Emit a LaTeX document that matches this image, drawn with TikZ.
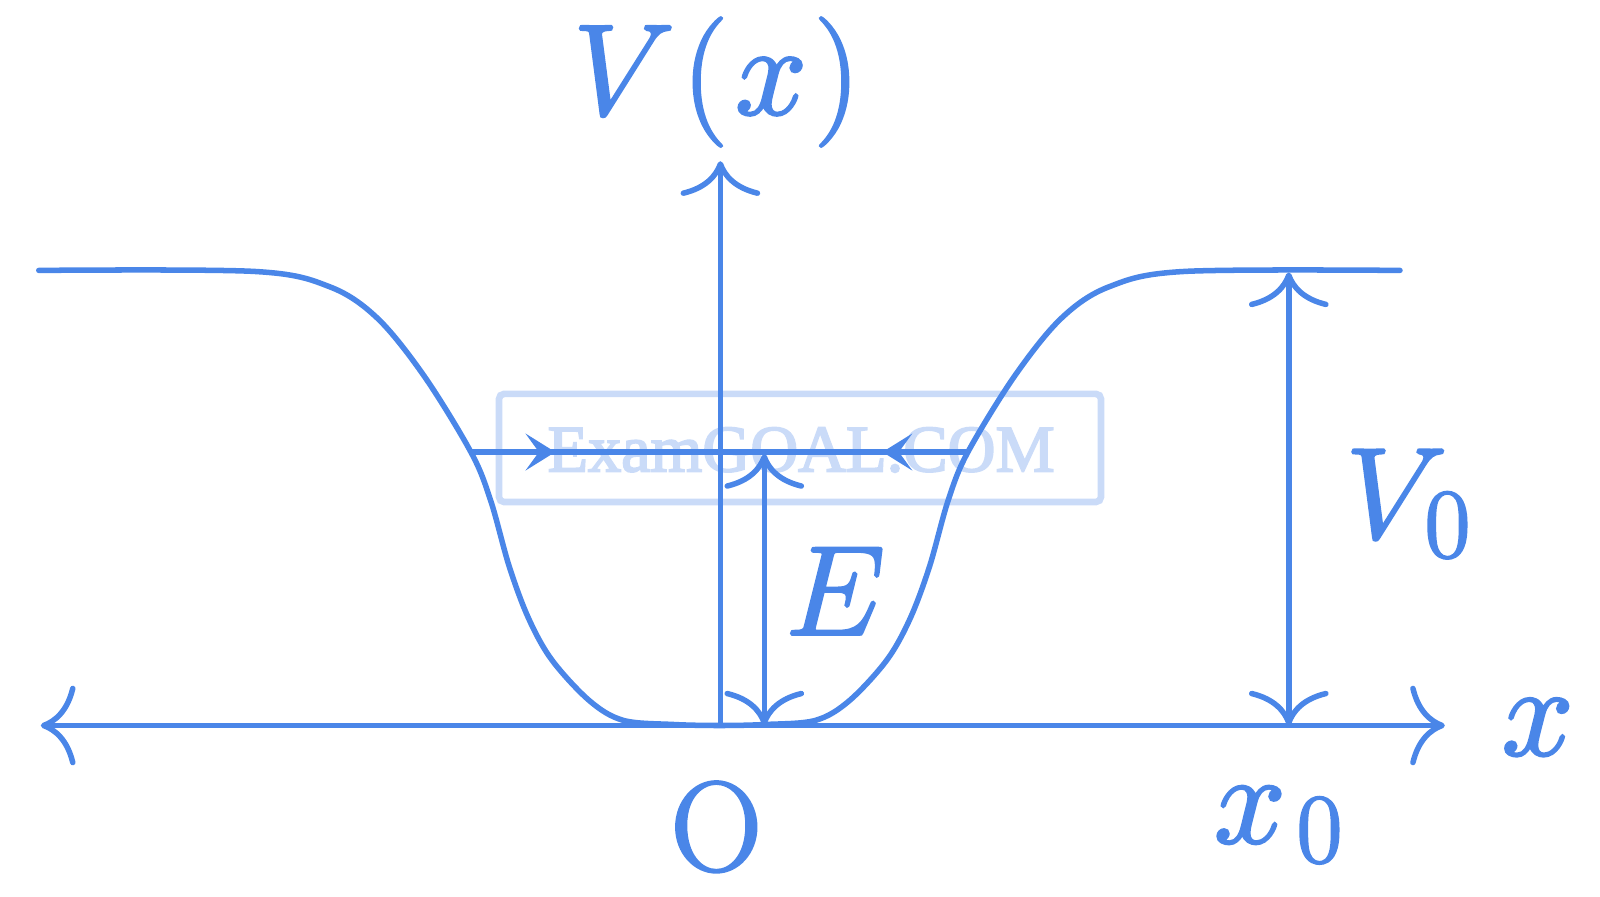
\RequirePackage{fix-cm}
\documentclass[tikz,border=0pt]{standalone}
\usepackage{fontspec}
\newfontfamily\wmfont{Liberation Serif}
\DeclareMathSizes{36}{36}{27.5}{20}
\DeclareMathSizes{35.5}{35.5}{27}{20}
\usetikzlibrary{arrows.meta,decorations.markings}
\definecolor{pblue}{RGB}{74,134,232}
\definecolor{wblue}{RGB}{202,219,248}
\newcommand\thk[2][0.7]{\special{pdf:literal direct 2 Tr #1 w}#2\special{pdf:literal direct 0 Tr}}
\tikzset{
  cmar/.tip={Computer Modern Rightarrow[length=0.34cm,width=0.78cm]},
  stl/.tip={Stealth[length=0.29cm,width=0.36cm,inset=0.13cm]},
  pline/.style={pblue, line width=0.054cm},
  lbl/.style={text=pblue, inner sep=0pt, font=\fontsize{36}{43}\selectfont},
}
\begin{document}
\begin{tikzpicture}[x=0.01cm,y=-0.01cm]
\useasboundingbox (0,0) rectangle (1568,879);
% watermark
\draw[wblue, line width=0.065cm, rounded corners=0.05cm] (489,386) rectangle (1079,492);
\node[text=wblue, inner sep=0pt, anchor=base, font=\wmfont\fontsize{18.5}{20}\selectfont] (wm) at (785,462) {\thk[0.5]{ExamGOAL.COM}};
% coordinates
\coordinate (axL) at (40,711);
\coordinate (axR) at (1416,711);
\coordinate (org) at (706,711);
\coordinate (axT) at (706,158);
\coordinate (v0B) at (1263,711);
\coordinate (v0T) at (1263,267);
\coordinate (eB) at (749,711);
\coordinate (eT) at (749,445);
\coordinate (hL) at (462,443);
\coordinate (hR) at (948,443);
% potential curve
\draw[pline, line cap=round] plot[smooth, tension=0.55] coordinates {(38,265) (249,266) (323,281) (370,312) (416,369) (462,444) (481,491) (499,555) (518,606) (541,647) (578,687) (611,706) (660,710) (705,711) (750,710) (799,706) (832,687) (869,647) (892,606) (911,555) (929,491) (948,444) (994,369) (1040,312) (1087,281) (1161,266) (1372,265)};
% axes
\draw[pline, {cmar}-{cmar}] (axL) -- (axR);
\draw[pline, -{cmar}] (org) -- (axT);
% V0 and E arrows
\draw[pline, {cmar}-{cmar}] (v0B) -- (v0T);
\draw[pline, {cmar}-{cmar}] (eB) -- (eT);
% energy level line
\draw[pline, postaction={decorate}, decoration={markings,
  mark=at position 0.169 with {\arrow{stl}},
  mark=at position 0.829 with {\arrowreversed{stl}}}] (hL) -- (hR);
% labels
\node[lbl, anchor=base west] (vxl) at (561,112) {\thk{$V\mkern1mu(\mkern1mu x\mkern1mu)$}};
\node[lbl, anchor=base west, font=\fontsize{35.5}{42}\selectfont] (El) at (769,622) {\thk{$E$}};
\node[lbl, anchor=base west] (V0l) at (1318,527) {\thk{$V_{\mkern1mu 0}$}};
\node[lbl, anchor=base west] (xl) at (1471,740) {\thk{$x$}};
\node[lbl, anchor=base west] (x0l) at (1189,826) {\thk{$x_{\mkern2mu 0}$}};
\node[lbl, anchor=base, font=\fontsize{35.5}{42}\selectfont] (Ol) at (702,853) {\thk{O}};
\end{tikzpicture}
\end{document}
